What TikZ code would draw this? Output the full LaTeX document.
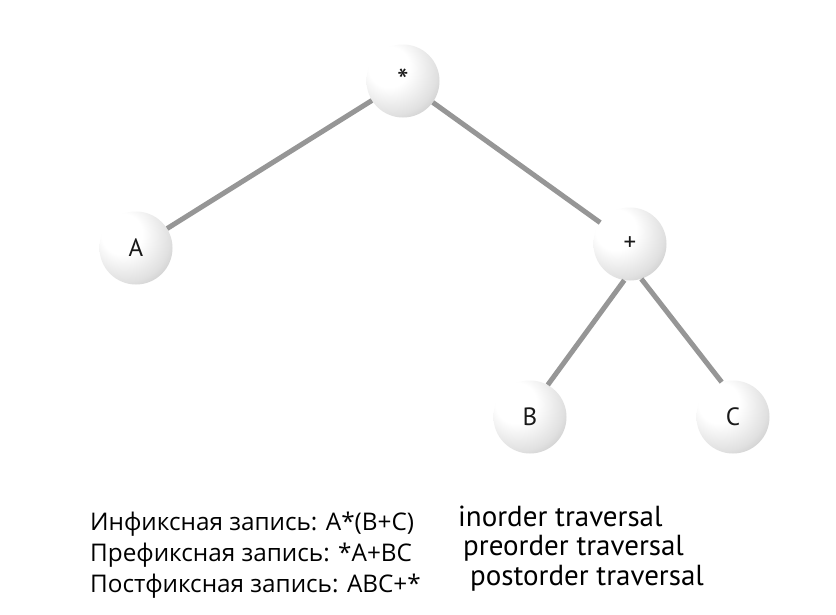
\documentclass[tikz,border=0pt]{standalone}
\usepackage{fontspec}
\setmainfont{Open Sans}
\newfontfamily\labfont{PT Sans}
\pgfdeclareradialshading{myball}{\pgfpoint{-12bp}{12bp}}{%
  color(0bp)=(white); color(14bp)=(white); color(30bp)=(black!12);
  color(44bp)=(black!30); color(58bp)=(black!44); color(70bp)=(black!44)}
\definecolor{edgegray}{RGB}{150,150,150}
\tikzset{
  ballnode/.style={circle, minimum size=73pt, inner sep=0pt, shading=myball,
    font=\labfont\fontsize{25}{28}\selectfont, text=black!90},
  edgeline/.style={draw=edgegray, line width=5pt},
  rutext/.style={anchor=base west, inner sep=0pt, font=\fontsize{24.3}{27}\selectfont, text=black},
  entext/.style={anchor=base west, inner sep=0pt, font=\labfont\fontsize{29}{32}\selectfont, text=black}
}
\begin{document}
\begin{tikzpicture}[x=1pt,y=-1pt]
\useasboundingbox (0,0) rectangle (836,614);
\fill[white] (0,0) rectangle (836,614);
\node[ballnode] (star) at (403,81) {\raisebox{-10pt}{\fontsize{33}{33}\selectfont *}};
\node[ballnode] (A) at (136,248) {A};
\node[ballnode] (plus) at (630,244) {+};
\node[ballnode] (B) at (530,417) {B};
\node[ballnode] (C) at (733,417) {C};
\draw[edgeline] (star) -- (A);
\draw[edgeline] (star) -- (plus);
\draw[edgeline] (plus.261) -- (B.61);
\draw[edgeline] (plus.288) -- (C.108);
\node[rutext] (r1) at (90,530) {Инфиксная запись: A*(B+C)};
\node[rutext] (r2) at (90,561) {Префиксная запись: *A+BC};
\node[rutext] (r3) at (90,592) {Постфиксная запись: ABC+*};
\node[entext] (e1) at (458,526) {inorder traversal};
\node[entext] (e2) at (463,555) {preorder traversal};
\node[entext] (e3) at (470,585) {postorder traversal};
\end{tikzpicture}
\end{document}
